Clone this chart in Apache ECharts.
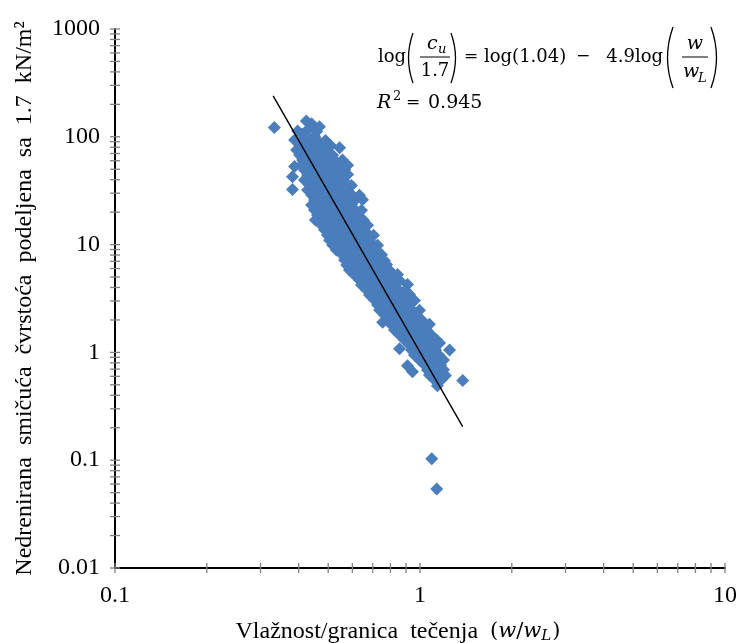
<!DOCTYPE html>
<html><head><meta charset="utf-8">
<script src="https://cdn.jsdelivr.net/npm/echarts@6/dist/echarts.min.js"></script>
<style>html,body{margin:0;padding:0;background:#fff}#c{width:740px;height:643px}</style>
</head><body><div id="c"></div>
<script>
// tick labels (decades)
const xTickLabels = ['0.1', '1', '10'];
const yTickLabels = ['0.01', '0.1', '1', '10', '100', '1000'];

// measured points: [w/wL, cu/1.7]
const samples = [
[0.333,122],[0.424,140],[0.441,132],[0.468,124],[0.397,113],[0.412,106],[0.451,101],[0.431,118],[0.458,112],
[0.388,93.4],[0.409,92],[0.434,94],[0.461,93],[0.490,92.5],
[0.403,84],[0.428,85],[0.454,83.5],[0.483,84.5],[0.509,83],
[0.545,79],
[0.394,75.4],[0.418,76],[0.444,74.8],[0.468,75.8],[0.497,75],
[0.403,67.8],[0.434,68.5],[0.461,67.2],[0.486,68],[0.517,67.5],
[0.412,60.9],[0.437,61.5],[0.465,60.3],[0.494,61.2],[0.524,60.5],[0.557,61],
[0.388,53],
[0.409,54.7],[0.434,55.3],[0.461,54.2],[0.490,54.9],[0.520,54.4],[0.553,55.1],[0.579,54.5],
[0.418,49.2],[0.444,49.8],[0.472,48.7],[0.501,49.5],[0.532,48.9],[0.566,49.4],
[0.382,42.5],
[0.428,44.2],[0.454,45.0],[0.483,43.6],[0.513,44.6],[0.545,43.9],[0.579,44.8],
[0.418,39.7],[0.441,40.3],[0.468,39.2],[0.497,39.9],[0.528,40.6],[0.562,39.4],
[0.434,35.7],[0.461,36.2],[0.490,35.2],[0.520,35.9],[0.553,36.4],[0.596,35.3],
[0.382,32.4],
[0.428,32.1],[0.454,31.6],[0.483,32.5],[0.513,31.8],[0.545,32.4],[0.579,31.7],
[0.441,28.8],[0.468,29.3],[0.497,28.4],[0.528,29.0],[0.562,28.5],[0.596,29.2],[0.633,28.7],
[0.451,25.9],[0.479,25.5],[0.509,26.3],[0.541,25.7],[0.575,26.1],[0.610,25.6],[0.648,26.0],
[0.441,23.3],[0.468,23.7],[0.497,23.0],[0.528,23.5],[0.562,23.1],[0.596,23.6],
[0.451,20.9],[0.479,21.2],[0.509,20.6],[0.541,21.0],[0.575,20.7],[0.610,21.3],[0.643,20.8],
[0.461,18.8],[0.490,18.5],[0.520,19.0],[0.553,18.6],[0.587,19.1],[0.624,18.7],
[0.454,16.9],[0.483,17.2],[0.513,16.7],[0.545,17.0],[0.579,16.6],[0.615,17.1],[0.653,16.8],
[0.475,15.2],[0.505,15.4],[0.537,15.0],[0.570,15.3],[0.605,14.9],[0.643,15.4],[0.673,15.1],
[0.486,13.7],[0.517,13.5],[0.549,13.9],[0.583,13.6],[0.619,13.8],[0.658,13.5],
[0.497,12.3],[0.528,12.5],[0.562,12.1],[0.596,12.4],[0.633,12.2],[0.673,12.5],[0.704,12.2],
[0.505,11.0],[0.537,10.8],[0.570,11.2],[0.605,10.9],[0.643,11.1],[0.683,10.8],
[0.517,9.92],[0.549,10.1],[0.583,9.75],[0.619,9.98],[0.658,9.8],[0.699,10.05],[0.726,9.85],
[0.532,8.91],[0.566,8.75],[0.601,9.05],[0.638,8.8],[0.678,9.0],[0.720,8.85],
[0.557,8.01],[0.592,8.15],[0.628,7.9],[0.668,8.1],[0.709,7.95],[0.748,8.05],
[0.566,7.2],[0.601,7.1],[0.638,7.3],[0.678,7.15],[0.720,7.25],[0.765,7.1],
[0.575,6.47],[0.610,6.55],[0.648,6.4],[0.688,6.5],[0.731,6.38],[0.777,6.52],
[0.587,5.81],[0.624,5.72],[0.663,5.88],[0.704,5.75],[0.748,5.85],[0.794,5.78],
[0.610,5.22],[0.648,5.3],[0.688,5.15],[0.731,5.25],[0.777,5.18],[0.844,5.28],
[0.633,4.69],[0.673,4.62],[0.715,4.75],[0.759,4.65],[0.807,4.72],[0.857,4.64],
[0.643,4.22],[0.683,4.28],[0.726,4.16],[0.771,4.25],[0.819,4.18],[0.910,4.27],
[0.668,3.79],[0.709,3.74],[0.754,3.84],[0.800,3.76],[0.850,3.82],[0.896,3.75],
[0.683,3.41],[0.726,3.45],[0.771,3.37],[0.819,3.43],[0.870,3.38],[0.924,3.44],
[0.709,3.06],[0.754,3.02],[0.800,3.1],[0.850,3.04],[0.903,3.08],[0.959,3.03],
[0.726,2.75],[0.771,2.79],[0.819,2.72],[0.870,2.77],[0.924,2.73],
[0.737,2.47],[0.783,2.44],[0.831,2.5],[0.883,2.45],[0.938,2.49],[0.996,2.46],
[0.765,2.22],[0.813,2.25],[0.863,2.19],[0.917,2.23],[0.974,2.2],
[0.754,1.9],
[0.794,2.0],[0.844,1.98],[0.896,2.02],[0.952,1.97],[1.011,2.01],
[0.807,1.8],[0.857,1.82],[0.910,1.78],[0.967,1.81],[1.027,1.79],[1.074,1.82],
[0.825,1.61],[0.876,1.59],[0.931,1.63],[0.989,1.6],[1.050,1.62],
[0.857,1.45],[0.910,1.47],[0.967,1.44],[1.027,1.46],[1.091,1.44],
[0.890,1.3],[0.945,1.29],[1.004,1.31],[1.066,1.29],[1.133,1.3],
[1.159,1.22],[1.25,1.05],[0.857,1.08],
[0.924,1.17],[0.981,1.18],[1.042,1.16],[1.107,1.17],
[0.938,1.05],[0.996,1.04],[1.058,1.06],[1.124,1.05],
[0.959,0.946],[1.019,0.955],[1.083,0.94],[1.150,0.95],
[0.996,0.85],[1.058,0.845],[1.124,0.856],[1.194,0.848],
[0.91,0.75],[0.945,0.66],
[1.035,0.764],[1.099,0.77],[1.168,0.758],
[1.058,0.687],[1.124,0.68],[1.194,0.692],
[1.074,0.617],[1.142,0.622],[1.212,0.612],
[1.38,0.55],
[1.116,0.555],[1.177,0.56],
[1.14,0.49],
[1.093,0.103],[1.135,0.054]
];

// regression line end points
const fitW = [0.33, 1.38];
const fitCu = [240, 0.205];

const xMin = Number(xTickLabels[0]), xMax = Number(xTickLabels[xTickLabels.length - 1]);
const yMin = Number(yTickLabels[0]), yMax = Number(yTickLabels[yTickLabels.length - 1]);

function tickValues(labels) {
  const out = [];
  const dec = labels.map(Number);
  for (let i = 0; i < dec.length; i++) {
    out.push(dec[i]);
    if (i < dec.length - 1) for (let k = 2; k <= 9; k++) out.push(+(dec[i] * k).toPrecision(6));
  }
  return out;
}
const xTicks = tickValues(xTickLabels);
const yTicks = tickValues(yTickLabels);

const chart = echarts.init(document.getElementById('c'));
const serif = '"Liberation Serif", "Times New Roman", serif';
const math = '"DejaVu Serif", serif';
const fmt = v => String(+(+v).toPrecision(6));
const TICK = '#808080';

chart.setOption({
  animation: false,
  backgroundColor: '#fff',
  grid: { left: 115, right: 15, top: 29, bottom: 75, containLabel: false, outerBoundsMode: 'none' },
  xAxis: {
    type: 'log', logBase: 10, min: xMin, max: xMax,
    axisLine: { lineStyle: { color: '#000', width: 2 } },
    axisTick: { show: false }, splitLine: { show: false }, minorTick: { show: false },
    axisLabel: { fontFamily: serif, fontSize: 24, color: '#000', margin: 16, formatter: fmt },
    name: '{n|Vlažnost/granica  tečenja  }{m|(}{mi|w}{m|/}{mi|w}{sub|L}{m|)}',
    nameLocation: 'middle', nameGap: 51,
    nameTextStyle: {
      padding: [0, 44, 0, 0],
      rich: {
        n: { fontFamily: serif, fontSize: 24, color: '#000' },
        m: { fontFamily: math, fontSize: 21, color: '#000' },
        mi: { fontFamily: math, fontSize: 21, fontStyle: 'italic', color: '#000' },
        sub: { fontFamily: math, fontSize: 15, fontStyle: 'italic', color: '#000', verticalAlign: 'bottom', padding: [10, 1, 0, 0] }
      }
    }
  },
  yAxis: {
    type: 'log', logBase: 10, min: yMin, max: yMax,
    axisLine: { lineStyle: { color: '#000', width: 2 } },
    axisTick: { show: false }, splitLine: { show: false }, minorTick: { show: false },
    axisLabel: { fontFamily: serif, fontSize: 24, color: '#000', margin: 15, formatter: fmt },
    name: 'Nedrenirana  smičuća  čvrstoća  podeljena  sa  1.7  kN/m²',
    nameLocation: 'middle', nameGap: 78,
    nameTextStyle: { fontFamily: serif, fontSize: 24, color: '#000' }
  },
  series: [
    {
      type: 'custom', coordinateSystem: 'cartesian2d', clip: false, silent: true, z: 1,
      data: xTicks.map(v => [v, yMin]),
      renderItem: (p, api) => {
        const c = api.coord([api.value(0), api.value(1)]);
        return { type: 'line', shape: { x1: c[0], y1: c[1] - 5, x2: c[0], y2: c[1] + 5 }, style: { stroke: TICK, lineWidth: 1.3 } };
      }
    },
    {
      type: 'custom', coordinateSystem: 'cartesian2d', clip: false, silent: true, z: 1,
      data: yTicks.map(v => [xMin, v]),
      renderItem: (p, api) => {
        const c = api.coord([api.value(0), api.value(1)]);
        return { type: 'line', shape: { x1: c[0] - 5, y1: c[1], x2: c[0] + 5, y2: c[1] }, style: { stroke: TICK, lineWidth: 1.3 } };
      }
    },
    {
      type: 'scatter', symbol: 'diamond', symbolSize: 13,
      itemStyle: { color: '#4a7dbc', opacity: 1 },
      data: samples
    },
    {
      type: 'line', symbol: 'none', silent: true,
      lineStyle: { color: '#000', width: 1.4 },
      data: fitW.map((w, i) => [w, fitCu[i]])
    }
  ],
  graphic: [
    { type: 'text', x: 378, y: 57, style: { text: 'log', font: '18px ' + math, fill: '#000', verticalAlign: 'middle' } },
    { type: 'bezierCurve', shape: { x1: 413, y1: 33, cpx1: 404, cpy1: 58, x2: 413, y2: 83 }, style: { stroke: '#000', lineWidth: 1.3, fill: 'none' } },
    { type: 'text', x: 427, y: 44, style: { text: 'c', font: 'italic 19px ' + math, fill: '#000', verticalAlign: 'middle' } },
    { type: 'text', x: 438, y: 50, style: { text: 'u', font: 'italic 13px ' + math, fill: '#000', verticalAlign: 'middle' } },
    { type: 'line', shape: { x1: 420, y1: 57, x2: 450, y2: 57 }, style: { stroke: '#000', lineWidth: 1 } },
    { type: 'text', x: 435, y: 71, style: { text: '1.7', font: '18px ' + math, fill: '#000', align: 'center', verticalAlign: 'middle' } },
    { type: 'bezierCurve', shape: { x1: 451, y1: 33, cpx1: 460, cpy1: 58, x2: 451, y2: 83 }, style: { stroke: '#000', lineWidth: 1.3, fill: 'none' } },
    { type: 'text', x: 464, y: 57, style: { text: '=', font: '17px ' + math, fill: '#000', verticalAlign: 'middle' } },
    { type: 'text', x: 484, y: 57, style: { text: 'log(1.04)', font: '18px ' + math, fill: '#000', verticalAlign: 'middle' } },
    { type: 'text', x: 576, y: 57, style: { text: '−', font: '17px ' + math, fill: '#000', verticalAlign: 'middle' } },
    { type: 'text', x: 663, y: 57, style: { text: '4.9log', font: '18px ' + math, fill: '#000', align: 'right', verticalAlign: 'middle' } },
    { type: 'bezierCurve', shape: { x1: 673, y1: 27, cpx1: 662, cpy1: 58, x2: 673, y2: 88 }, style: { stroke: '#000', lineWidth: 1.3, fill: 'none' } },
    { type: 'text', x: 695, y: 44, style: { text: 'w', font: 'italic 19px ' + math, fill: '#000', align: 'center', verticalAlign: 'middle' } },
    { type: 'line', shape: { x1: 682, y1: 57, x2: 708, y2: 57 }, style: { stroke: '#000', lineWidth: 1 } },
    { type: 'text', x: 683, y: 72, style: { text: 'w', font: 'italic 19px ' + math, fill: '#000', verticalAlign: 'middle' } },
    { type: 'text', x: 698, y: 79, style: { text: 'L', font: 'italic 13px ' + math, fill: '#000', verticalAlign: 'middle' } },
    { type: 'bezierCurve', shape: { x1: 711, y1: 27, cpx1: 722, cpy1: 58, x2: 711, y2: 88 }, style: { stroke: '#000', lineWidth: 1.3, fill: 'none' } },
    { type: 'text', x: 377, y: 103, style: { text: 'R', font: 'italic 19px ' + math, fill: '#000', verticalAlign: 'middle' } },
    { type: 'text', x: 393, y: 97, style: { text: '2', font: '13px ' + math, fill: '#000', verticalAlign: 'middle' } },
    { type: 'text', x: 406, y: 103, style: { text: '=', font: '17px ' + math, fill: '#000', verticalAlign: 'middle' } },
    { type: 'text', x: 428, y: 103, style: { text: '0.945', font: '19px ' + math, fill: '#000', verticalAlign: 'middle' } }
  ]
});
</script>
</body></html>
